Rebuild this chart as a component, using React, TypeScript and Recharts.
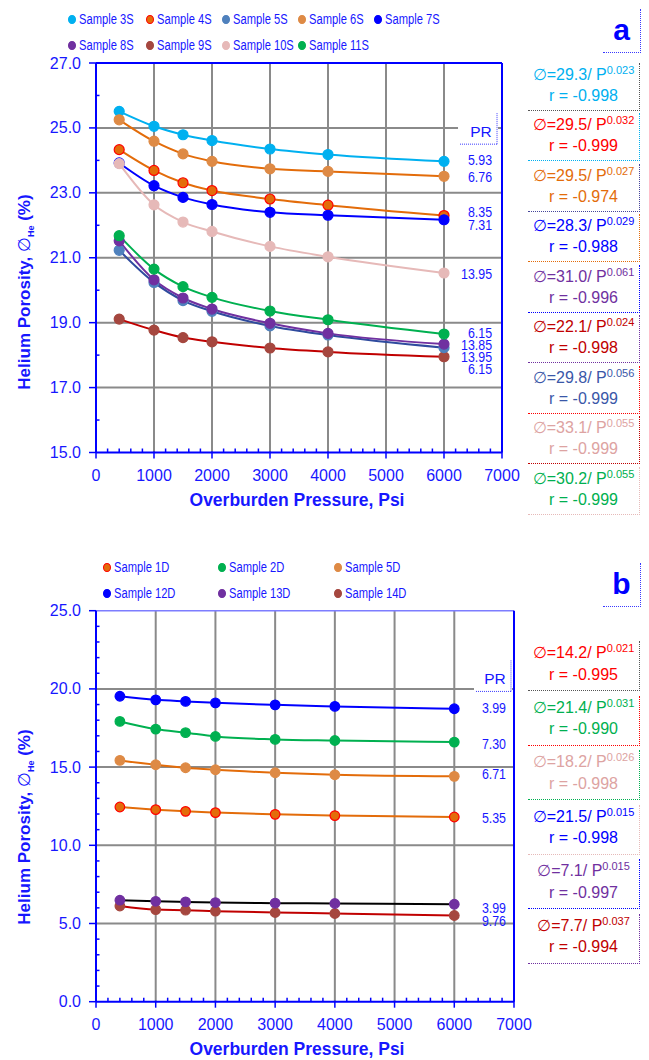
import React from 'react'
import { LineChart, Line, XAxis, YAxis, ReferenceLine, ReferenceDot } from 'recharts'

// overburden pressure steps (psi)
const pressures = [400, 1000, 1500, 2000, 3000, 4000, 6000]

// panel a: helium porosity (%)
const sample3S = [25.51, 25.05, 24.79, 24.61, 24.35, 24.18, 23.97]
const sample4S = [24.33, 23.69, 23.31, 23.07, 22.81, 22.62, 22.3]
const sample5S = [21.23, 20.24, 19.68, 19.35, 18.9, 18.62, 18.23]
const sample6S = [25.25, 24.59, 24.2, 23.97, 23.74, 23.66, 23.51]
const sample7S = [23.92, 23.22, 22.86, 22.64, 22.4, 22.31, 22.17]
const sample8S = [21.52, 20.32, 19.76, 19.42, 18.98, 18.67, 18.34]
const sample9S = [19.11, 18.77, 18.54, 18.41, 18.22, 18.1, 17.95]
const sample10S = [23.9, 22.63, 22.1, 21.81, 21.35, 21.03, 20.53]
const sample11S = [21.68, 20.65, 20.11, 19.78, 19.36, 19.09, 18.65]

// panel b
const sample1D = [12.45, 12.28, 12.17, 12.09, 11.98, 11.9, 11.81]
const sample2D = [17.92, 17.43, 17.2, 16.96, 16.77, 16.7, 16.6]
const sample5D = [15.43, 15.15, 14.96, 14.83, 14.64, 14.51, 14.41]
const sample12D = [19.53, 19.3, 19.2, 19.11, 18.98, 18.88, 18.73]
const sample13D = [6.49, 6.42, 6.38, 6.34, 6.3, 6.28, 6.23]
const sample14D = [6.12, 5.89, 5.85, 5.79, 5.7, 5.64, 5.51]

// axis ticks
const xMajorTicks = [0, 1000, 2000, 3000, 4000, 5000, 6000, 7000]
const xTicks = Array.from({ length: 36 }, (_, i) => i * 200)
const yMajorA = [15, 17, 19, 21, 23, 25, 27]
const yTicksA = Array.from({ length: 13 }, (_, i) => 15 + i)
const yMajorB = [0, 5, 10, 15, 20, 25]
const yTicksB = Array.from({ length: 26 }, (_, i) => i)

// PR annotations at the right of each plot
const prLabelsA = ['PR', '5.93', '6.76', '8.35', '7.31', '13.95', '6.15', '13.85', '13.95', '6.15']
const prValuesA = [24.9, 24.03, 23.49, 22.42, 22.01, 20.52, 18.69, 18.32, 17.95, 17.6]
const prLabelsB = ['PR', '3.99', '7.30', '6.71', '5.35', '3.99', '9.76']
const prValuesB = [20.67, 18.82, 16.52, 14.6, 11.79, 6.0, 5.22]

// fitted power laws
const eqCoefA = ['29.3', '29.5', '29.5', '28.3', '31.0', '22.1', '29.8', '33.1', '30.2']
const eqExpA = ['0.023', '0.032', '0.027', '0.029', '0.061', '0.024', '0.056', '0.055', '0.055']
const eqRA = ['-0.998', '-0.999', '-0.974', '-0.988', '-0.996', '-0.998', '-0.999', '-0.999', '-0.999']
const eqCoefB = ['14.2', '21.4', '18.2', '21.5', '7.1', '7.7']
const eqExpB = ['0.021', '0.031', '0.026', '0.015', '0.015', '0.037']
const eqRB = ['-0.995', '-0.990', '-0.998', '-0.998', '-0.997', '-0.994']

const AXIS = '#0000ff'
const TXT = '#1717ff'
const GRID = '#8a8a8a'
const FONT = '"Liberation Sans", Arial, Helvetica, sans-serif'

const CYAN = '#00B0F0'
const RED = '#FF0000'
const ORANGE = '#E36C0A'
const ORANGE_L = '#DE8A45'
const STEEL = '#4F81BD'
const STEEL_D = '#2F4B9E'
const BLUE = '#0000FF'
const PURPLE = '#7030A0'
const DRED = '#C00000'
const BROWN = '#A5473F'
const PINK = '#E6B9B8'
const GREEN = '#00B050'

interface Series {
  key: string
  name: string
  values: number[]
  line: string
  fill: string
  edge: string
}

// draw order matters (later ones on top)
const seriesA: Series[] = [
  { key: 's3', name: 'Sample 3S', values: sample3S, line: CYAN, fill: CYAN, edge: CYAN },
  { key: 's6', name: 'Sample 6S', values: sample6S, line: ORANGE, fill: ORANGE_L, edge: ORANGE_L },
  { key: 's4', name: 'Sample 4S', values: sample4S, line: ORANGE, fill: ORANGE, edge: RED },
  { key: 's7', name: 'Sample 7S', values: sample7S, line: BLUE, fill: BLUE, edge: BLUE },
  { key: 's10', name: 'Sample 10S', values: sample10S, line: PINK, fill: PINK, edge: PINK },
  { key: 's9', name: 'Sample 9S', values: sample9S, line: DRED, fill: BROWN, edge: BROWN },
  { key: 's5', name: 'Sample 5S', values: sample5S, line: STEEL_D, fill: STEEL, edge: STEEL },
  { key: 's8', name: 'Sample 8S', values: sample8S, line: PURPLE, fill: PURPLE, edge: PURPLE },
  { key: 's11', name: 'Sample 11S', values: sample11S, line: GREEN, fill: GREEN, edge: GREEN },
]

const seriesB: Series[] = [
  { key: 'd12', name: 'Sample 12D', values: sample12D, line: BLUE, fill: BLUE, edge: BLUE },
  { key: 'd2', name: 'Sample 2D', values: sample2D, line: GREEN, fill: GREEN, edge: GREEN },
  { key: 'd5', name: 'Sample 5D', values: sample5D, line: ORANGE, fill: ORANGE_L, edge: ORANGE_L },
  { key: 'd1', name: 'Sample 1D', values: sample1D, line: ORANGE, fill: ORANGE, edge: RED },
  { key: 'd14', name: 'Sample 14D', values: sample14D, line: DRED, fill: BROWN, edge: BROWN },
  { key: 'd13', name: 'Sample 13D', values: sample13D, line: '#000000', fill: PURPLE, edge: PURPLE },
]

const rowsA = pressures.map((p, i) => {
  const row: Record<string, number> = { p }
  seriesA.forEach((s) => (row[s.key] = s.values[i]))
  return row
})
const rowsB = pressures.map((p, i) => {
  const row: Record<string, number> = { p }
  seriesB.forEach((s) => (row[s.key] = s.values[i]))
  return row
})

// legend layout (page coords of marker centres)
const legendA = [
  { name: 'Sample 3S', fill: CYAN, edge: CYAN, x: 72, y: 19 },
  { name: 'Sample 4S', fill: ORANGE, edge: RED, x: 150, y: 19 },
  { name: 'Sample 5S', fill: STEEL, edge: STEEL, x: 226, y: 19 },
  { name: 'Sample 6S', fill: ORANGE_L, edge: ORANGE_L, x: 302, y: 19 },
  { name: 'Sample 7S', fill: BLUE, edge: BLUE, x: 378, y: 19 },
  { name: 'Sample 8S', fill: PURPLE, edge: PURPLE, x: 72, y: 45 },
  { name: 'Sample 9S', fill: BROWN, edge: BROWN, x: 150, y: 45 },
  { name: 'Sample 10S', fill: PINK, edge: PINK, x: 226, y: 45 },
  { name: 'Sample 11S', fill: GREEN, edge: GREEN, x: 302, y: 45 },
]
const legendB = [
  { name: 'Sample 1D', fill: ORANGE, edge: RED, x: 107, y: 567 },
  { name: 'Sample 2D', fill: GREEN, edge: GREEN, x: 222, y: 567 },
  { name: 'Sample 5D', fill: ORANGE_L, edge: ORANGE_L, x: 338, y: 567 },
  { name: 'Sample 12D', fill: BLUE, edge: BLUE, x: 107, y: 593 },
  { name: 'Sample 13D', fill: PURPLE, edge: PURPLE, x: 222, y: 593 },
  { name: 'Sample 14D', fill: BROWN, edge: BROWN, x: 338, y: 593 },
]

const eqColorsA = [CYAN, RED, ORANGE, BLUE, PURPLE, DRED, '#3A57A8', '#DDA3A2', GREEN]
const eqEdgesA = ['#555555', CYAN, '#45459a', ORANGE, BLUE, PURPLE, RED, DRED, PINK]
const eqColorsB = [RED, GREEN, '#DDA3A2', BLUE, PURPLE, DRED]
const eqEdgesB = ['#555555', RED, GREEN, PINK, BLUE, PURPLE]

function XTick(props: any) {
  const { x, y, payload } = props
  const v = payload.value
  if (xMajorTicks.includes(v)) {
    return (
      <g>
        <line x1={x} y1={y - 1} x2={x} y2={y + 6} stroke={AXIS} strokeWidth={1.5} />
        <text x={x} y={y + 23} textAnchor="middle" dominantBaseline="central" fill={TXT} fontSize={16} fontFamily={FONT}>
          {v}
        </text>
      </g>
    )
  }
  return <line x1={x} y1={y} x2={x} y2={y - 4} stroke={AXIS} strokeWidth={1.5} />
}

function makeYTick(majors: number[]) {
  return function YTick(props: any) {
    const { x, y, payload } = props
    const v = payload.value
    if (majors.includes(v)) {
      return (
        <g>
          <line x1={x - 7} y1={y} x2={x} y2={y} stroke={AXIS} strokeWidth={1.5} />
          <text x={x - 15} y={y} textAnchor="end" dominantBaseline="central" fill={TXT} fontSize={16} fontFamily={FONT}>
            {v.toFixed(1)}
          </text>
        </g>
      )
    }
    return <line x1={x} y1={y} x2={x + 3.5} y2={y} stroke={AXIS} strokeWidth={1.5} />
  }
}

function prShape(label: string, boxW: number) {
  return function PrText(p: any) {
    if (label === 'PR') {
      return (
        <g>
          <rect x={p.cx - boxW} y={p.cy - 13} width={boxW + 6} height={27} fill="#ffffff" />
          <line x1={p.cx - boxW + 2} y1={p.cy + 13} x2={p.cx + 5} y2={p.cy + 13} stroke="#3a3aff" strokeWidth={1} strokeDasharray="1 1" />
          <line x1={p.cx + 5} y1={p.cy - 18} x2={p.cx + 5} y2={p.cy + 13} stroke="#3a3aff" strokeWidth={1} strokeDasharray="1 1" />
          <text x={p.cx - 11} y={p.cy} textAnchor="middle" dominantBaseline="central" fill={TXT} fontSize={15.5} fontFamily={FONT}>
            PR
          </text>
        </g>
      )
    }
    // condensed look of the original annotation font
    return (
      <text
        transform={`translate(${p.cx},${p.cy}) scale(0.8,1)`}
        x={0}
        y={0}
        textAnchor="end"
        dominantBaseline="central"
        fill={TXT}
        fontSize={15.5}
        fontFamily={FONT}
      >
        {label}
      </text>
    )
  }
}

function LegendBlock({ items }: { items: typeof legendA }) {
  return (
    <>
      {items.map((it) => (
        <div key={it.name}>
          <div
            style={{
              position: 'absolute',
              left: it.x - 4,
              top: it.y - 4.5,
              width: 6,
              height: 7,
              borderRadius: '50%',
              background: it.fill,
              border: `1.2px solid ${it.edge}`,
            }}
          />
          <div
            style={{
              position: 'absolute',
              left: it.x + 7,
              top: it.y - 9.5,
              lineHeight: '18px',
              fontSize: 15.5,
              fontFamily: FONT,
              color: TXT,
              whiteSpace: 'nowrap',
              transform: 'scaleX(0.72)',
              transformOrigin: 'left center',
            }}
          >
            {it.name}
          </div>
        </div>
      ))}
    </>
  )
}

function EqBox(props: { top: number; lh: number; color: string; edge: string; c: string; e: string; r: string }) {
  const { top, lh, color, edge, c, e, r } = props
  return (
    <div
      style={{
        position: 'absolute',
        left: 528,
        top,
        width: 111,
        paddingTop: 2,
        paddingBottom: 5,
        borderRight: `1px dotted ${edge}`,
        borderBottom: `1px dotted ${edge}`,
        color,
        textAlign: 'center',
        fontFamily: FONT,
        fontSize: 16,
        lineHeight: `${lh}px`,
        whiteSpace: 'nowrap',
      }}
    >
      <div>
        <span style={{ fontFamily: '"DejaVu Sans", sans-serif', fontWeight: 300 }}>∅</span>={c}/ P
        <span style={{ fontSize: 11, position: 'relative', top: -6 }}>{e}</span>
      </div>
      <div>r = {r}</div>
    </div>
  )
}

function YTitle({ cy }: { cy: number }) {
  return (
    <div
      style={{
        position: 'absolute',
        left: 25,
        top: cy,
        transform: 'translate(-50%, -50%) rotate(-90deg)',
        whiteSpace: 'nowrap',
        fontFamily: FONT,
        fontWeight: 'bold',
        fontSize: 17,
        color: TXT,
        lineHeight: '20px',
      }}
    >
      Helium Porosity,{' '}
      <span style={{ fontFamily: '"DejaVu Sans", sans-serif', fontWeight: 300 }}>∅</span>
      <span style={{ fontSize: 9, position: 'relative', top: 4 }}>He</span> (%)
    </div>
  )
}

function XTitle({ cy }: { cy: number }) {
  return (
    <div
      style={{
        position: 'absolute',
        left: 297,
        top: cy,
        transform: 'translate(-50%, -50%)',
        whiteSpace: 'nowrap',
        fontFamily: FONT,
        fontWeight: 'bold',
        fontSize: 17.5,
        color: TXT,
      }}
    >
      Overburden Pressure, Psi
    </div>
  )
}

function PanelTag({ text, top }: { text: string; top: number }) {
  return (
    <div
      style={{
        position: 'absolute',
        left: 603,
        top,
        width: 37,
        height: 43,
        borderRight: '1px dotted #3a3aff',
        borderBottom: '1px dotted #3a3aff',
        textAlign: 'center',
        fontFamily: FONT,
        fontWeight: 'bold',
        fontSize: 30,
        lineHeight: '42px',
        color: AXIS,
      }}
    >
      {text}
    </div>
  )
}

export default function App() {
  return (
    <div style={{ position: 'absolute', left: 0, top: 0, width: 649, height: 1060, background: '#fff', overflow: 'hidden' }}>
      {/* panel a */}
      <div style={{ position: 'absolute', left: 0, top: 0 }}>
        <LineChart width={649} height={530} data={rowsA} margin={{ top: 63, right: 147, bottom: 37.5, left: 36 }}>
          <XAxis
            dataKey="p"
            type="number"
            domain={[0, 7000]}
            ticks={xTicks}
            interval={0}
            tickSize={0}
            tickMargin={0}
            tickLine={false}
            axisLine={{ stroke: AXIS, strokeWidth: 2 }}
            tick={XTick}
            height={40}
            allowDataOverflow
          />
          <YAxis
            type="number"
            domain={[15, 27]}
            ticks={yTicksA}
            interval={0}
            tickSize={0}
            tickMargin={0}
            tickLine={false}
            axisLine={{ stroke: AXIS, strokeWidth: 2 }}
            tick={makeYTick(yMajorA)}
            width={60}
            allowDataOverflow
          />
          {[17, 19, 21, 23, 25].map((v) => (
            <ReferenceLine key={'gy' + v} y={v} stroke={GRID} strokeWidth={2} />
          ))}
          {[1000, 2000, 3000, 4000, 5000, 6000].map((v) => (
            <ReferenceLine key={'gx' + v} x={v} stroke={GRID} strokeWidth={2} />
          ))}
          <ReferenceLine y={27} stroke={AXIS} strokeWidth={2} />
          <ReferenceLine x={7000} stroke={AXIS} strokeWidth={2} />
          {seriesA.map((s) => (
            <Line
              key={s.key}
              dataKey={s.key}
              name={s.name}
              type="monotone"
              stroke={s.line}
              strokeWidth={2}
              dot={{ r: 5, fill: s.fill, stroke: s.edge, strokeWidth: 1.2, fillOpacity: 1 }}
              isAnimationActive={false}
            />
          ))}
          {prLabelsA.map((l, i) => (
            <ReferenceDot key={'pa' + i} x={6828} y={prValuesA[i]} r={0} shape={prShape(l, 34)} />
          ))}
        </LineChart>
      </div>

      {/* panel b */}
      <div style={{ position: 'absolute', left: 0, top: 530 }}>
        <LineChart width={649} height={530} data={rowsB} margin={{ top: 80.7, right: 135, bottom: 18.3, left: 36 }}>
          <XAxis
            dataKey="p"
            type="number"
            domain={[0, 7000]}
            ticks={xTicks}
            interval={0}
            tickSize={0}
            tickMargin={0}
            tickLine={false}
            axisLine={{ stroke: AXIS, strokeWidth: 2 }}
            tick={XTick}
            height={40}
            allowDataOverflow
          />
          <YAxis
            type="number"
            domain={[0, 25]}
            ticks={yTicksB}
            interval={0}
            tickSize={0}
            tickMargin={0}
            tickLine={false}
            axisLine={{ stroke: AXIS, strokeWidth: 2 }}
            tick={makeYTick(yMajorB)}
            width={60}
            allowDataOverflow
          />
          {[5, 10, 15, 20].map((v) => (
            <ReferenceLine key={'gy' + v} y={v} stroke={GRID} strokeWidth={2} />
          ))}
          {[1000, 2000, 3000, 4000, 5000, 6000].map((v) => (
            <ReferenceLine key={'gx' + v} x={v} stroke={GRID} strokeWidth={2} />
          ))}
          <ReferenceLine y={25} stroke="#7d7dff" strokeWidth={1.5} />
          <ReferenceLine x={7000} stroke={AXIS} strokeWidth={2} />
          {seriesB.map((s) => (
            <Line
              key={s.key}
              dataKey={s.key}
              name={s.name}
              type="monotone"
              stroke={s.line}
              strokeWidth={2}
              dot={{ r: 4.8, fill: s.fill, stroke: s.edge, strokeWidth: 1.2, fillOpacity: 1 }}
              isAnimationActive={false}
            />
          ))}
          {prLabelsB.map((l, i) => (
            <ReferenceDot key={'pb' + i} x={6866} y={prValuesB[i]} r={0} shape={prShape(l, 32)} />
          ))}
        </LineChart>
      </div>

      <LegendBlock items={legendA} />
      <LegendBlock items={legendB} />
      <PanelTag text="a" top={9} />
      <PanelTag text="b" top={563} />
      <YTitle cy={292} />
      <YTitle cy={827} />
      <XTitle cy={500} />
      <XTitle cy={1049} />

      {eqCoefA.map((c, i) => (
        <EqBox key={'ea' + i} top={62.5 + i * 50.5} lh={19} color={eqColorsA[i]} edge={eqEdgesA[i]} c={c} e={eqExpA[i]} r={eqRA[i]} />
      ))}
      {eqCoefB.map((c, i) => (
        <EqBox key={'eb' + i} top={641 + i * 54.5} lh={20.5} color={eqColorsB[i]} edge={eqEdgesB[i]} c={c} e={eqExpB[i]} r={eqRB[i]} />
      ))}
    </div>
  )
}
